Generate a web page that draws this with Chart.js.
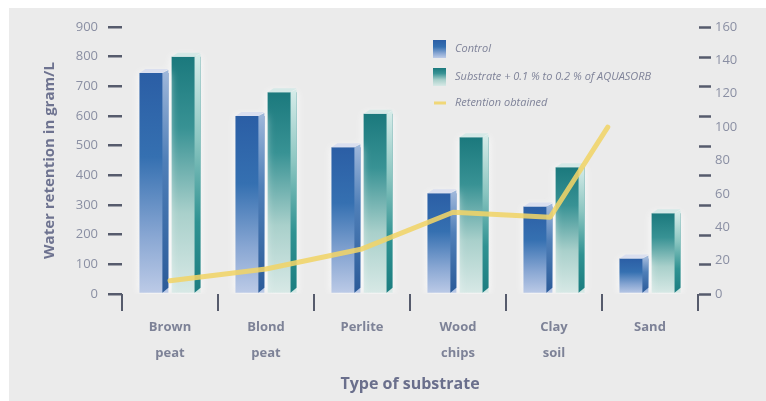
<!DOCTYPE html>
<html>
<head>
<meta charset="utf-8">
<script src="https://cdn.jsdelivr.net/npm/chart.js@4/dist/chart.umd.min.js"></script>
<style>
  html, body { margin: 0; padding: 0; background: #ffffff; }
  #wrap { position: relative; width: 766px; height: 401px; overflow: hidden; }
  #panel { position: absolute; left: 9px; top: 8px; right: 0; bottom: 0; background: #ebebeb; }
  #c { position: absolute; left: 0; top: 0; }
</style>
</head>
<body>
<div id="wrap">
  <div id="panel"></div>
  <canvas id="c" width="766" height="401"></canvas>
</div>
<script>
// Substrate categories (multi-line labels)
const substrates = [['Brown', 'peat'], ['Blond', 'peat'], ['Perlite'], ['Wood', 'chips'], ['Clay', 'soil'], ['Sand']];

// Water retention in g/L
const controlValues  = [745, 600, 495, 340, 295, 120];
const aquasorbValues = [800, 680, 608, 528, 427, 272];

// Retention obtained (right axis) and where each point sits along the categories
const retentionValues = [8, 15, 27, 49, 46, 100];
const retentionAt     = [0, 1, 2, 2.95, 3.96, 4.56];

// Axis tick values
const leftTickValues  = [0, 100, 200, 300, 400, 500, 600, 700, 800, 900];
const rightTickValues = [0, 20, 40, 60, 80, 100, 120, 140, 160];

const seriesNames = ['Control', 'Substrate + 0.1 % to 0.2 % of AQUASORB', 'Retention obtained'];

const FONT = '"Open Sans", "DejaVu Sans", sans-serif';
const AXIS_COLOR = '#565b6c';
const LINE_COLOR = 'rgba(240,212,104,0.88)';

const controlFront = [[0, '#2b5ea5'], [0.38, '#3570b1'], [0.74, '#89a7d3'], [1, '#bdcbe7']];
const controlSide  = [[0, '#9db6da'], [0.4, '#4f7fb8'], [1, '#2b5b99']];
const aquaFront    = [[0, '#1b797d'], [0.3, '#389294'], [0.66, '#a9d0cb'], [1, '#d8e9e6']];
const aquaSide     = [[0, '#d4ebe8'], [0.35, '#8cc6c1'], [0.7, '#2f9292'], [1, '#1b7d80']];

function barFill(stops) {
  return (ctx) => {
    const chart = ctx.chart;
    if (!chart.chartArea || ctx.type !== 'data') return stops[1][1];
    const y = chart.scales.y;
    const top = y.getPixelForValue(ctx.raw);
    const base = y.getPixelForValue(0);
    const g = chart.ctx.createLinearGradient(0, top, 0, base);
    stops.forEach(([o, c]) => g.addColorStop(o, c));
    return g;
  };
}

// Soft glow around the bars and the darker side face of each column
const barDepth = {
  id: 'barDepth',
  beforeDatasetDraw(chart, args) {
    if (args.meta.type !== 'bar') return;
    const c = chart.ctx;
    c.save();
    c.shadowColor = 'rgba(255,255,255,0.95)';
    c.shadowBlur = 10;
  },
  afterDatasetDraw(chart, args) {
    if (args.meta.type !== 'bar') return;
    const c = chart.ctx;
    c.restore();
    const stops = args.index === 1 ? controlSide : aquaSide;
    const cap = args.index === 1 ? 'rgba(214,220,238,0.85)' : 'rgba(208,232,229,0.85)';
    c.save();
    args.meta.data.forEach((bar) => {
      const { x, y, base, width } = bar.getProps(['x', 'y', 'base', 'width'], true);
      const left = x - width / 2;
      const right = x + width / 2;
      const sw = Math.round(width * 0.22);
      const g = c.createLinearGradient(0, y, 0, base);
      stops.forEach(([o, col]) => g.addColorStop(o, col));
      c.fillStyle = g;
      c.beginPath();
      c.moveTo(right - sw, y);
      c.lineTo(right, y - 3);
      c.lineTo(right, base - 5);
      c.lineTo(right - sw, base);
      c.closePath();
      c.fill();
      // pale top face
      c.fillStyle = cap;
      c.beginPath();
      c.moveTo(left, y);
      c.lineTo(left + sw, y - 4);
      c.lineTo(right, y - 4);
      c.lineTo(right - sw, y);
      c.closePath();
      c.fill();
    });
    c.restore();
  }
};

// Tick dashes on the right-hand side and the legend block
const decorations = {
  id: 'decorations',
  afterDraw(chart) {
    const c = chart.ctx;
    const area = chart.chartArea;
    const y = chart.scales.y;
    c.save();
    c.strokeStyle = AXIS_COLOR;
    c.lineWidth = 2.5;
    leftTickValues.forEach((v) => {
      const py = Math.round(y.getPixelForValue(v)) + 0.5;
      c.beginPath();
      c.moveTo(area.right + 1, py);
      c.lineTo(area.right + 13, py);
      c.stroke();
    });

    // legend
    const lx = 433, tx = 455;
    const rows = [49, 77, 103];
    c.font = 'italic 11px ' + FONT;
    c.textBaseline = 'middle';
    c.textAlign = 'left';
    [controlFront, aquaFront].forEach((stops, i) => {
      const top = rows[i] - 9, h = 18;
      const g = c.createLinearGradient(0, top, 0, top + h);
      stops.forEach(([o, col]) => g.addColorStop(o, col));
      c.fillStyle = g;
      c.fillRect(lx, top, 13, h);
    });
    c.strokeStyle = LINE_COLOR;
    c.lineWidth = 3;
    c.beginPath();
    c.moveTo(lx + 1, rows[2]);
    c.lineTo(lx + 13, rows[2]);
    c.stroke();
    c.fillStyle = '#7f8399';
    seriesNames.forEach((name, i) => c.fillText(name, tx, rows[i]));
    c.restore();
  }
};

new Chart(document.getElementById('c'), {
  type: 'bar',
  data: {
    labels: substrates,
    datasets: [
      {
        type: 'line',
        label: seriesNames[2],
        data: retentionValues.map((v, i) => ({ x: retentionAt[i], y: v })),
        parsing: false,
        xAxisID: 'x',
        yAxisID: 'y1',
        borderColor: LINE_COLOR,
        borderWidth: 5,
        pointRadius: 0,
        tension: 0,
        borderCapStyle: 'round',
        borderJoinStyle: 'round',
        order: 0
      },
      {
        label: seriesNames[0],
        data: controlValues,
        backgroundColor: barFill(controlFront),
        yAxisID: 'y',
        xAxisID: 'x',
        categoryPercentage: 0.67,
        barPercentage: 0.9,
        order: 1
      },
      {
        label: seriesNames[1],
        data: aquasorbValues,
        backgroundColor: barFill(aquaFront),
        yAxisID: 'y',
        xAxisID: 'x',
        categoryPercentage: 0.67,
        barPercentage: 0.9,
        order: 2
      }
    ]
  },
  options: {
    responsive: false,
    animation: false,
    layout: { padding: { top: 27, left: 0, right: 0, bottom: 0 } },
    plugins: { legend: { display: false }, tooltip: { enabled: false } },
    scales: {
      x: {
        type: 'category',
        offset: true,
        border: { display: false },
        grid: { display: true, offset: true, drawOnChartArea: false, drawTicks: true, tickLength: 17, color: AXIS_COLOR, lineWidth: 2 },
        ticks: { color: '#7d8297', font: { family: FONT, size: 13, weight: 'bold', lineHeight: 2 }, padding: 3, maxRotation: 0, autoSkip: false },
        title: { display: true, text: 'Type of substrate', color: '#6a6f8c', font: { family: FONT, size: 16, weight: 'bold' }, padding: { top: 0, bottom: 7 } },
        afterFit(s) { s.height = 107; }
      },
      y: {
        position: 'left',
        min: 0, max: 900,
        border: { display: false },
        grid: { drawOnChartArea: false, drawTicks: true, tickLength: 14, color: AXIS_COLOR, lineWidth: 2.5 },
        afterBuildTicks(s) { s.ticks = leftTickValues.map((v) => ({ value: v })); },
        ticks: { color: '#8a8fa3', font: { family: FONT, size: 13 }, padding: 10 },
        title: { display: true, text: 'Water retention in gram/L', color: '#6e7390', font: { family: FONT, size: 15, weight: 'bold' }, padding: { top: 41, bottom: 0 } },
        afterFit(s) { s.width = 122; }
      },
      y1: {
        position: 'right',
        min: 0, max: 160,
        border: { display: false },
        grid: { display: false, drawTicks: false },
        afterBuildTicks(s) { s.ticks = rightTickValues.map((v) => ({ value: v })); },
        ticks: { color: '#8a8fa3', font: { family: FONT, size: 13 }, padding: 17 },
        afterFit(s) { s.width = 68; }
      }
    }
  },
  plugins: [barDepth, decorations]
});
</script>
</body>
</html>
